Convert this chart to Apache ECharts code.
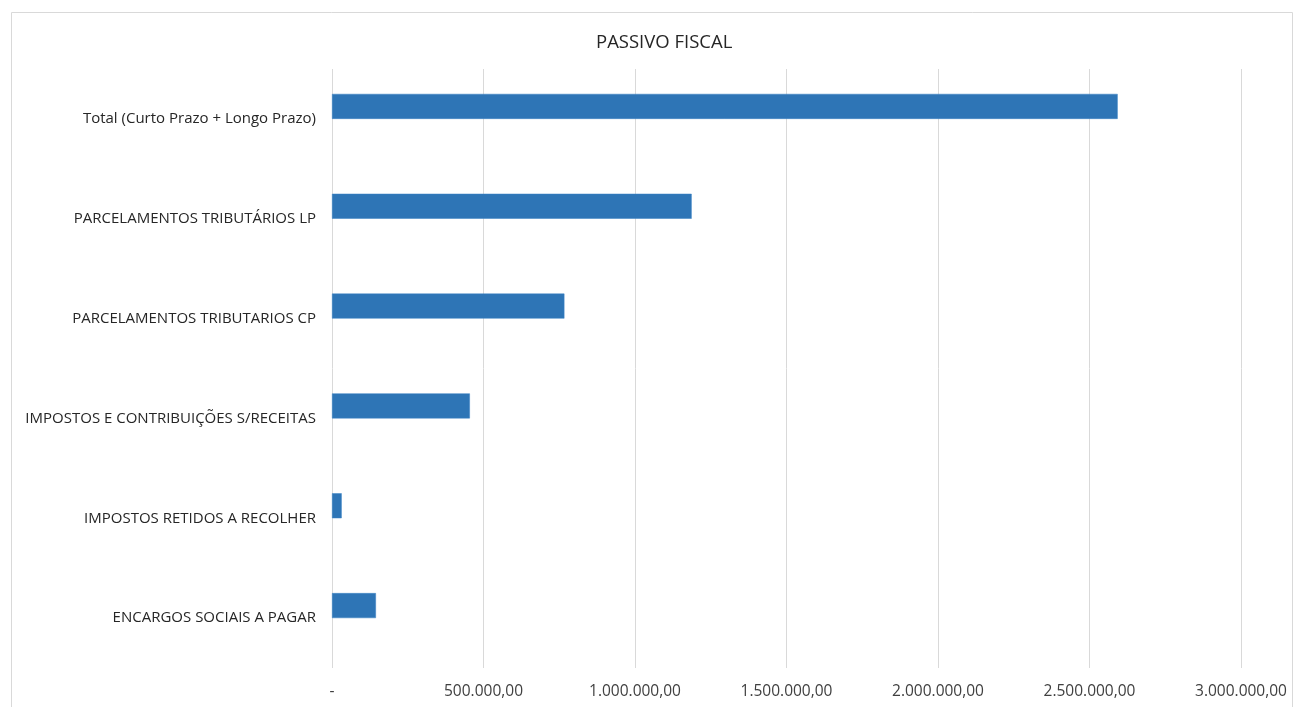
<!DOCTYPE html>
<html>
<head>
<meta charset="utf-8">
<script src="https://cdn.jsdelivr.net/npm/echarts@6/dist/echarts.min.js"></script>
<style>
html,body{margin:0;padding:0;background:#fff;}
#c{width:1293px;height:707px;}
</style>
</head>
<body>
<div id="c"></div>
<script>
var categories = ["ENCARGOS SOCIAIS A PAGAR", "IMPOSTOS RETIDOS A RECOLHER", "IMPOSTOS E CONTRIBUIÇÕES S/RECEITAS", "PARCELAMENTOS TRIBUTARIOS CP", "PARCELAMENTOS TRIBUTÁRIOS LP", "Total (Curto Prazo + Longo Prazo)"];
var values = [145000, 32000, 455000, 767000, 1187000, 2593000];
var title = "PASSIVO FISCAL";

function fmt(v){
  if (v === 0) return "-";
  var s = Math.round(v).toString().replace(/\B(?=(\d{3})+(?!\d))/g, ".");
  return s + ",00";
}

var chart = echarts.init(document.getElementById('c'));
var FONT = "Open Sans";
chart.setOption({
  animation: false,
  textStyle: {fontFamily: FONT},
  title: {
    text: title, left: 591, top: 28,
    textStyle: {fontFamily: FONT, fontSize: 18.5, fontWeight: 'normal', color: '#262626'}
  },
  graphic: [{
    type: 'rect', left: 9, top: 10, silent: true,
    shape: {width: 1281, height: 695},
    style: {fill: 'none', stroke: '#d9d9d9', lineWidth: 1}
  }],
  grid: {left: 332, right: 52, top: 69, bottom: 39, containLabel: false},
  xAxis: {
    type: 'value', min: 0, max: 3000000, interval: 500000,
    axisLine: {show: false}, axisTick: {show: false},
    splitLine: {show: true, lineStyle: {color: '#d9d9d9', width: 1}},
    axisLabel: {formatter: fmt, fontFamily: FONT, fontSize: 15.5, color: '#404040', margin: 16}
  },
  yAxis: {
    type: 'category', data: categories,
    axisLine: {show: false}, axisTick: {show: false},
    axisLabel: {fontFamily: FONT, fontSize: 15, color: '#262626', margin: 16}
  },
  series: [
    {type: 'bar', data: values, barWidth: 25, barGap: '0%',
     itemStyle: {color: '#2E75B6', borderColor: '#3B82C4', borderWidth: 0.5}},
    {type: 'bar', data: values.map(function(){return null;}), barWidth: 25, barGap: '0%'}
  ]
});
</script>
</body>
</html>
